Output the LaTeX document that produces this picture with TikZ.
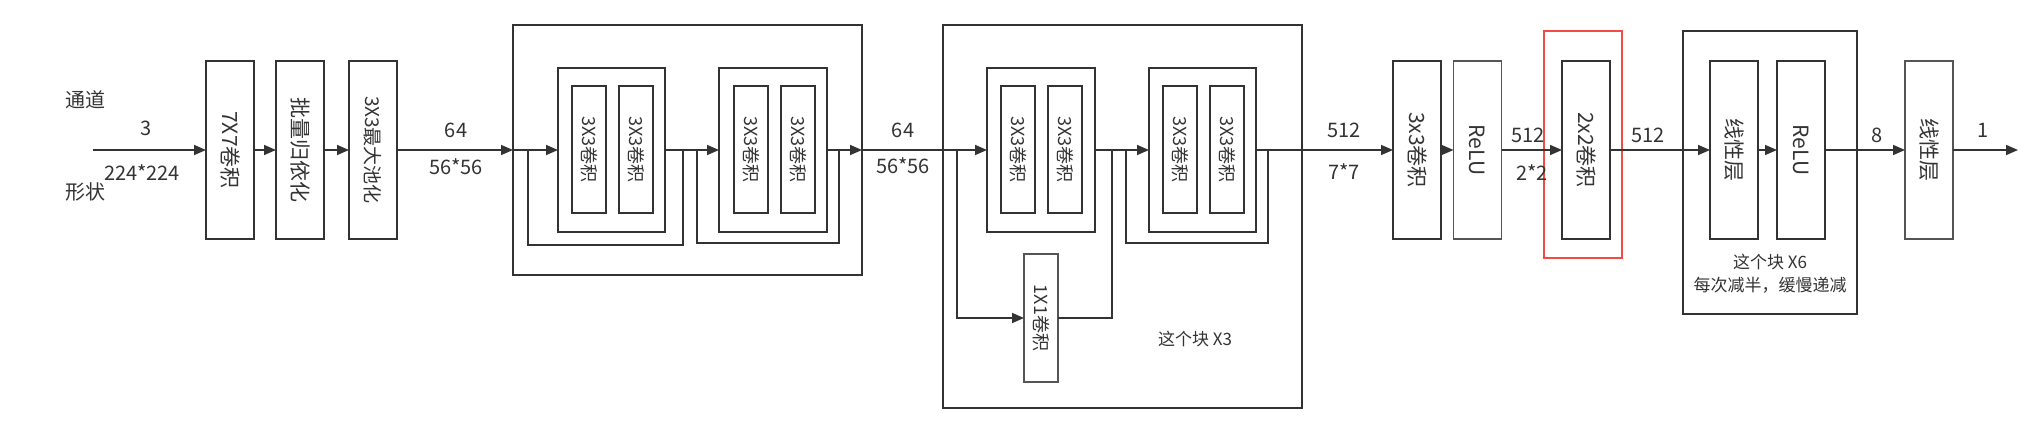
\documentclass[tikz,border=0pt]{standalone}
\usepackage{fontspec}
\setmainfont{Noto Sans CJK SC}
\usetikzlibrary{arrows.meta}
\definecolor{ln}{HTML}{333333}
\definecolor{lg}{HTML}{555555}
\definecolor{redb}{HTML}{F44A45}
\begin{document}
\begin{tikzpicture}[x=1pt,y=-1pt,
  line width=1.6pt,
  every node/.style={text=ln, inner sep=0pt, outer sep=0pt},
  box/.style={draw=ln, line width=1.6pt, minimum width=48pt, minimum height=178pt},
  conv/.style={draw=ln, line width=1.6pt, minimum width=34pt, minimum height=127pt},
  frame/.style={draw=ln, line width=1.6pt},
  vtext/.style={rotate=-90, font=\fontsize{21}{24}\selectfont},
  vsmall/.style={rotate=-90, font=\fontsize{18}{21}\selectfont},
  lbl/.style={font=\fontsize{20}{23}\selectfont},
  captxt/.style={font=\fontsize{17}{20}\selectfont},
  arr/.style={draw=ln, -{Triangle[length=12pt,width=10pt]}},
  wire/.style={draw=ln}]
\useasboundingbox (0,0) rectangle (2042,433);

% ---------- stem ----------
\node[box] (c7) at (230,150) {};
\node[vtext] at (c7) {7X7卷积};
\node[box] (bn) at (300,150) {};
\node[vtext] at (bn) {批量归依化};
\node[box] (mp) at (373,150) {};
\node[vtext, font=\fontsize{19}{22}\selectfont] at (mp) {3X3最大池化};

% ---------- block 1 ----------
\node[frame, minimum width=349pt, minimum height=250pt] (B1) at (687.5,150) {};
\node[frame, minimum width=107pt, minimum height=164pt] (I1) at (611.5,150) {};
\node[conv] (a1) at (589,149.5) {};
\node[vsmall] at (a1) {3X3卷积};
\node[conv] (a2) at (636,149.5) {};
\node[vsmall] at (a2) {3X3卷积};
\node[frame, minimum width=108pt, minimum height=164pt] (I2) at (773,150) {};
\node[conv] (a3) at (751,149.5) {};
\node[vsmall] at (a3) {3X3卷积};
\node[conv] (a4) at (798,149.5) {};
\node[vsmall] at (a4) {3X3卷积};

% ---------- block 2 ----------
\node[frame, minimum width=359pt, minimum height=383pt] (B2) at (1122.5,216.5) {};
\node[frame, minimum width=108pt, minimum height=164pt] (IA) at (1041,150) {};
\node[conv] (b1) at (1018,149.5) {};
\node[vsmall] at (b1) {3X3卷积};
\node[conv] (b2) at (1065,149.5) {};
\node[vsmall] at (b2) {3X3卷积};
\node[frame, minimum width=107pt, minimum height=164pt] (IB) at (1202.5,150) {};
\node[conv] (b3) at (1180,149.5) {};
\node[vsmall] at (b3) {3X3卷积};
\node[conv] (b4) at (1227,149.5) {};
\node[vsmall] at (b4) {3X3卷积};
\node[conv, draw=lg, minimum height=128pt] (k1) at (1041,318) {};
\node[vsmall] at (k1) {1X1卷积};
\node[captxt] (t3) at (1195,339) {这个块 X3};

% ---------- head ----------
\node[box] (c3) at (1417,150) {};
\node[vtext] at (c3) {3x3卷积};
\node[box, draw=lg] (r1) at (1477.5,150) {};
\node[vtext] at (r1) {ReLU};
\node[draw=redb, line width=2.6pt, minimum width=78pt, minimum height=227pt] (red) at (1583,144.5) {};
\node[box] (c2) at (1586,150) {};
\node[vtext] at (c2) {2x2卷积};
\node[frame, minimum width=174pt, minimum height=283pt] (X6) at (1770,172.5) {};
\node[box] (l1) at (1734,150) {};
\node[vtext] at (l1) {线性层};
\node[box] (r2) at (1801,150) {};
\node[vtext] at (r2) {ReLU};
\node[captxt] (t6a) at (1770,262) {这个块 X6};
\node[captxt] (t6b) at (1770,285) {每次减半，缓慢递减};
\node[box, draw=lg] (l2) at (1929,150) {};
\node[vtext] at (l2) {线性层};

% ---------- labels ----------
\node[lbl] (n1) at (85,100) {通道};
\node[lbl] (n2) at (146,128) {3};
\node[lbl] (n3) at (142,173) {224*224};
\node[lbl] (n4) at (85,192) {形状};
\node[lbl] (n5) at (456,130) {64};
\node[lbl] (n6) at (456,167) {56*56};
\node[lbl] (n7) at (903,130) {64};
\node[lbl] (n8) at (903,166) {56*56};
\node[lbl] (n9) at (1344,130) {512};
\node[lbl] (n10) at (1344,172) {7*7};
\node[lbl] (n11) at (1528,135) {512};
\node[lbl] (n12) at (1532,173) {2*2};
\node[lbl] (n13) at (1648,135) {512};
\node[lbl] (n14) at (1877,135) {8};
\node[lbl] (n15) at (1983,130) {1};

% ---------- connectors ----------
\coordinate (in) at (93,150);
\coordinate (out) at (2018,150);
\coordinate (s1a) at (528,150);
\coordinate (s1b) at (683,150);
\coordinate (s2a) at (697,150);
\coordinate (s2b) at (839,150);
\coordinate (sAa) at (957,150);
\coordinate (sAb) at (1112,150);
\coordinate (sBa) at (1126,150);
\coordinate (sBb) at (1268,150);
\coordinate (B2in) at (B2.west |- IA.west);
\coordinate (B2out) at (B2.east |- IB.east);

\draw[arr] (in) -- (c7.west);
\draw[arr] (c7.east) -- (bn.west);
\draw[arr] (bn.east) -- (mp.west);
\draw[arr] (mp.east) -- (B1.west);
\draw[arr] (B1.west) -- (I1.west);
\draw[wire] (s1a) -- ++(0,95) -| (s1b);
\draw[arr] (I1.east) -- (I2.west);
\draw[wire] (s2a) -- ++(0,93) -| (s2b);
\draw[arr] (I2.east) -- (B1.east);
\draw[wire] (B1.east) -- (B2in);
\draw[arr] (B2in) -- (IA.west);
\draw[arr] (sAa) |- (k1.west);
\draw[wire] (k1.east) -| (sAb);
\draw[arr] (IA.east) -- (IB.west);
\draw[wire] (sBa) -- ++(0,93) -| (sBb);
\draw[wire] (IB.east) -- (B2out);
\draw[arr] (B2out) -- (c3.west);
\draw[arr] (c3.east) -- (r1.west);
\draw[arr] (r1.east) -- (c2.west);
\draw[arr] (c2.east) -- (l1.west);
\draw[arr] (l1.east) -- (r2.west);
\draw[arr] (r2.east) -- (l2.west);
\draw[arr] (l2.east) -- (out);
\end{tikzpicture}
\end{document}
